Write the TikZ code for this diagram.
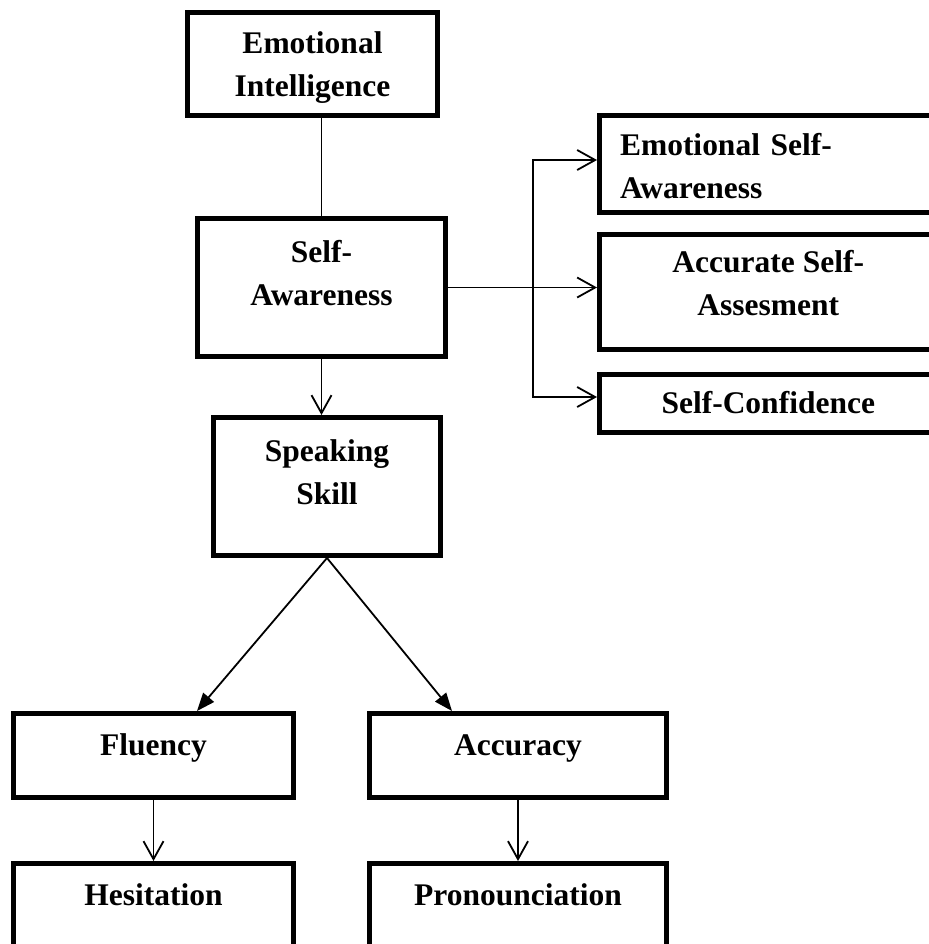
\documentclass[tikz,border=0pt]{standalone}
\usepackage{fontspec}
\setmainfont{Liberation Serif}
\usetikzlibrary{arrows.meta, positioning}

\begin{document}
\begin{tikzpicture}[
  x=0.5pt, y=-0.5pt,
  font=\fontsize{15.75}{21.5}\selectfont\bfseries,
  box/.style={
    draw,
    line width=2.5pt,
    align=center,
    inner sep=2pt,
    text height=10pt
  },
  arrow/.style={-{Straight Barb[length=9pt,width=10pt]}, line width=0.9pt},
  fillarrow/.style={-{Triangle[length=9pt,width=7pt]}, line width=0.9pt}
]
\useasboundingbox (0,0) rectangle (929,944);

% --- Main chain ---
\node[box, minimum width=125pt, minimum height=51.5pt, text height=36pt, text depth=4pt] (emo) at (312.5,64)
{Emotional\\Intelligence};

\node[box, minimum width=124pt, minimum height=69pt, text height=30pt, text depth=12.5pt] (selfaw) at (321.5,287.5)
{Self-\\Awareness};

\node[box, minimum width=113.5pt, minimum height=69pt, text height=30pt, text depth=12.5pt] (speak) at (327,486.5)
{Speaking\\Skill};

\draw[line width=0.9pt] (selfaw.north) -- (selfaw.north |- emo.south);
\draw[arrow] (selfaw.south) -- (selfaw.south |- speak.north);

% --- Self-awareness parts ---
\node[box, minimum width=168.75pt, minimum height=48.5pt, text width=148.25pt,
  inner xsep=0pt, align=left, text depth=19pt] (emoself) at (768.25,164)
{Emotional Self-\\Awareness};

\node[box, below=8.5pt of emoself, minimum width=168.75pt, minimum height=57.5pt, text height=30pt, text depth=7pt] (accself)
{Accurate Self-\\Assesment};

\node[box, below=10pt of accself, minimum width=168.75pt, minimum height=29pt, text depth=0.5pt] (conf)
{Self-Confidence};

\coordinate (split) at (533,287.5);

\draw[arrow] (selfaw.east) -- (selfaw.east -| accself.west);
\draw[arrow] (split) |- ([yshift=2pt]emoself.west);
\draw[arrow] (split) |- ([yshift=3.25pt]conf.west);

% --- Speaking skill parts ---
\node[box, minimum width=140pt, minimum height=42pt, text depth=10.5pt] (flu) at (153.5,755.5)
{Fluency};

\node[box, right=35.5pt of flu, minimum width=148.5pt, minimum height=42pt, text depth=10.5pt] (acc)
{Accuracy};

\node[box, below=30.5pt of flu, minimum width=140pt, minimum height=42pt, text depth=10.5pt] (hes)
{Hesitation};

\node[box, below=30.5pt of acc, minimum width=148.5pt, minimum height=42pt, text depth=10.5pt] (pron)
{Pronounciation};

\draw[fillarrow] (speak.south) -- ([xshift=21.75pt]flu.north);
\draw[fillarrow] (speak.south) -- ([xshift=-33pt]acc.north);
\draw[arrow] (flu.south) -- (hes.north);
\draw[arrow] (acc.south) -- (pron.north);

\end{tikzpicture}
\end{document}
